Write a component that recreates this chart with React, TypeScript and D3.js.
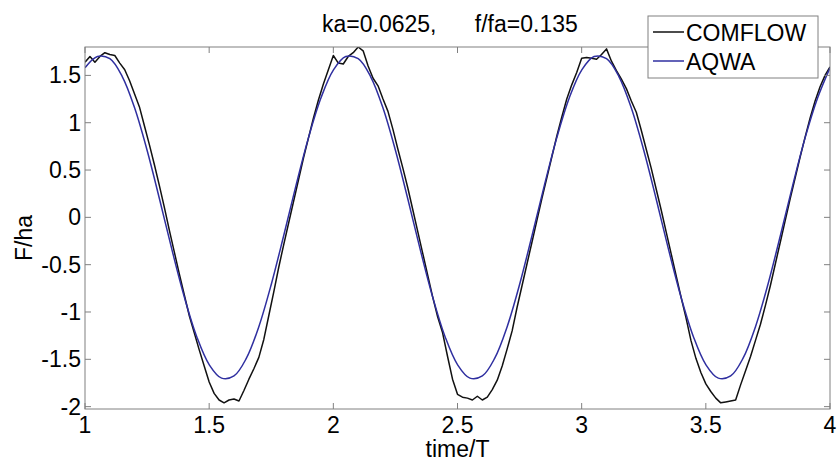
import React from 'react';
import * as d3 from 'd3';

// Text
const TITLE = 'ka=0.0625,      f/fa=0.135';
const X_LABEL = 'time/T';
const Y_LABEL = 'F/ha';
const SERIES_NAMES = ['COMFLOW', 'AQWA'];

// Axes
const X_DOMAIN = [1, 4];
const Y_DOMAIN = [-2.025, 1.8];
const X_TICKS = [1, 1.5, 2, 2.5, 3, 3.5, 4];
const Y_TICKS = [-2, -1.5, -1, -0.5, 0, 0.5, 1, 1.5];

// COMFLOW: sampled every 0.02 T starting at t = 1
const COMFLOW_T0 = 1;
const COMFLOW_DT = 0.02;
const COMFLOW = [
  1.64, 1.70, 1.64, 1.70, 1.74, 1.72, 1.71, 1.63, 1.56, 1.44,
  1.30, 1.16, 0.96, 0.76, 0.55, 0.33, 0.10, -0.14, -0.37, -0.60,
  -0.82, -1.04, -1.22, -1.40, -1.57, -1.74, -1.86, -1.93, -1.96, -1.93,
  -1.92, -1.94, -1.83, -1.71, -1.60, -1.48, -1.29, -1.04, -0.79, -0.53,
  -0.29, -0.06, 0.17, 0.40, 0.63, 0.84, 1.05, 1.24, 1.41, 1.56,
  1.71, 1.63, 1.62, 1.70, 1.74, 1.80, 1.76, 1.60, 1.47, 1.39,
  1.25, 1.12, 0.93, 0.72, 0.52, 0.31, 0.08, -0.15, -0.38, -0.61,
  -0.84, -1.05, -1.22, -1.47, -1.71, -1.87, -1.90, -1.91, -1.93, -1.89,
  -1.93, -1.90, -1.82, -1.72, -1.57, -1.39, -1.20, -0.95, -0.72, -0.49,
  -0.26, -0.03, 0.20, 0.42, 0.64, 0.86, 1.06, 1.25, 1.40, 1.53,
  1.68, 1.69, 1.68, 1.67, 1.72, 1.78, 1.65, 1.55, 1.46, 1.36,
  1.23, 1.11, 0.92, 0.72, 0.52, 0.30, 0.08, -0.15, -0.38, -0.61,
  -0.84, -1.06, -1.30, -1.49, -1.64, -1.76, -1.84, -1.91, -1.96, -1.95,
  -1.94, -1.93, -1.77, -1.62, -1.47, -1.30, -1.13, -0.93, -0.72, -0.49,
  -0.26, -0.03, 0.20, 0.42, 0.64, 0.85, 1.05, 1.23, 1.38, 1.50,
  1.59,
];

// AQWA: sampled every 0.05 T starting at t = 1
const AQWA_T0 = 1;
const AQWA_DT = 0.05;
const AQWA = [
  1.58, 1.699, 1.676, 1.488, 1.155, 0.709, 0.194, -0.341, -0.842, -1.261,
  -1.556, -1.699, -1.676, -1.488, -1.155, -0.709, -0.194, 0.341, 0.842, 1.261,
  1.556, 1.699, 1.676, 1.488, 1.155, 0.709, 0.194, -0.341, -0.842, -1.261,
  -1.556, -1.699, -1.676, -1.488, -1.155, -0.709, -0.194, 0.341, 0.842, 1.261,
  1.556, 1.699, 1.676, 1.488, 1.155, 0.709, 0.194, -0.341, -0.842, -1.261,
  -1.556, -1.699, -1.676, -1.488, -1.155, -0.709, -0.194, 0.341, 0.842, 1.261,
  1.58,
];

const COLORS = ['#111111', '#2f2fa0'];
const AXIS_COLOR = '#808080';
const FONT = '"Liberation Sans", Arial, Helvetica, sans-serif';

const W = 838;
const H = 465;
const M = { left: 85, right: 8, top: 47, bottom: 56 };

export default function App() {
  const x = d3.scaleLinear().domain(X_DOMAIN).range([M.left, W - M.right]);
  const y = d3.scaleLinear().domain(Y_DOMAIN).range([H - M.bottom, M.top]);
  const x0 = M.left;
  const x1 = W - M.right;
  const y0 = H - M.bottom;
  const y1 = M.top;

  const line = d3
    .line<[number, number]>()
    .x((d) => x(d[0]))
    .y((d) => y(d[1]));

  const comflowPts: [number, number][] = COMFLOW.map((v, i) => [COMFLOW_T0 + i * COMFLOW_DT, v]);
  const aqwaPts: [number, number][] = AQWA.map((v, i) => [AQWA_T0 + i * AQWA_DT, v]);

  const comflowPath = line.curve(d3.curveLinear)(comflowPts) || '';
  const aqwaPath = line.curve(d3.curveCatmullRom)(aqwaPts) || '';

  const tick = 6;
  const fs = 23;

  // legend box
  const lg = { x: 648, y: 16, w: 170, h: 62 };

  return (
    <svg
      width={W}
      height={H}
      style={{ position: 'absolute', left: 0, top: 0, background: '#fff' }}
      fontFamily={FONT}
    >
      <defs>
        <clipPath id="plot-clip">
          <rect x={x0} y={y1} width={x1 - x0} height={y0 - y1} />
        </clipPath>
      </defs>
      <rect x={0} y={0} width={W} height={H} fill="#fff" />

      {/* data */}
      <g clipPath="url(#plot-clip)" fill="none" strokeLinejoin="round">
        <path d={comflowPath} stroke={COLORS[0]} strokeWidth={1.5} />
        <path d={aqwaPath} stroke={COLORS[1]} strokeWidth={1.5} />
      </g>

      {/* frame */}
      <rect x={x0} y={y1} width={x1 - x0} height={y0 - y1} fill="none" stroke={AXIS_COLOR} strokeWidth={1} />

      {/* x ticks (bottom and top, inward) */}
      {X_TICKS.map((t) => (
        <g key={'xt' + t}>
          <line x1={x(t)} x2={x(t)} y1={y0} y2={y0 - tick} stroke={AXIS_COLOR} />
          <line x1={x(t)} x2={x(t)} y1={y1} y2={y1 + tick} stroke={AXIS_COLOR} />
          <text x={x(t)} y={y0 + 24} fontSize={fs} textAnchor="middle" fill="#000">
            {String(t)}
          </text>
        </g>
      ))}

      {/* y ticks (left and right, inward) */}
      {Y_TICKS.map((t) => (
        <g key={'yt' + t}>
          <line x1={x0} x2={x0 + tick} y1={y(t)} y2={y(t)} stroke={AXIS_COLOR} />
          <line x1={x1} x2={x1 - tick} y1={y(t)} y2={y(t)} stroke={AXIS_COLOR} />
          <text x={x0 - 4} y={y(t) + 8} fontSize={fs} textAnchor="end" fill="#000">
            {String(t)}
          </text>
        </g>
      ))}

      {/* axis labels */}
      <text x={(x0 + x1) / 2} y={457} fontSize={fs} textAnchor="middle" fill="#000">
        {X_LABEL}
      </text>
      <text
        transform={`translate(32, ${(y0 + y1) / 2 + 10}) rotate(-90)`}
        fontSize={fs}
        textAnchor="middle"
        fill="#000"
      >
        {Y_LABEL}
      </text>

      {/* title */}
      <text x={322} y={32} fontSize={fs} fill="#000" style={{ whiteSpace: 'pre' }} xmlSpace="preserve">
        {TITLE}
      </text>

      {/* legend */}
      <g>
        <rect x={lg.x} y={lg.y} width={lg.w} height={lg.h} fill="#fff" stroke={AXIS_COLOR} strokeWidth={1} />
        {SERIES_NAMES.map((name, i) => (
          <g key={name}>
            <line
              x1={653}
              x2={684}
              y1={lg.y + 16 + i * 29}
              y2={lg.y + 16 + i * 29}
              stroke={COLORS[i]}
              strokeWidth={1.5}
            />
            <text x={686} y={lg.y + 25 + i * 29} fontSize={fs} fill="#000">
              {name}
            </text>
          </g>
        ))}
      </g>
    </svg>
  );
}
